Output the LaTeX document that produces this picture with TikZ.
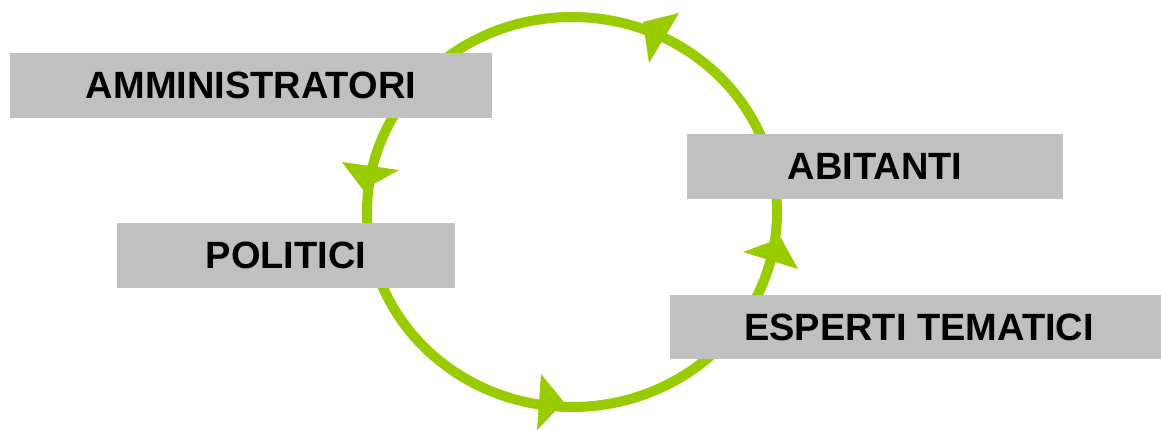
\documentclass[tikz,border=0pt]{standalone}
\usepackage{fontspec}
\setmainfont{Liberation Sans}
\definecolor{ringgreen}{HTML}{99CC00}
\definecolor{boxgray}{HTML}{C0C0C0}
\begin{document}
\begin{tikzpicture}[x=1pt,y=-1pt,
  ring/.style={draw=ringgreen,line width=10pt},
  head/.style={fill=ringgreen},
  lbl/.style={fill=boxgray,inner sep=0pt,font=\fontsize{38}{44}\selectfont\bfseries,text=black}]
\useasboundingbox (0,0) rectangle (1161,430);
% cycle ring
\draw[ring] (572,212) ellipse [x radius=205, y radius=195];
% arrowheads (counterclockwise)
\fill[head] (643,22) -- (679,13) -- (649,63) -- cycle;
\fill[head] (342,162) -- (399,170) -- (363,190) -- cycle;
\fill[head] (541,374) -- (564,402) -- (537,430) -- cycle;
\fill[head] (743,252) -- (781,238) -- (798,269) -- cycle;
% labels
\node[lbl,minimum width=482pt,minimum height=65pt] (amm) at (251,85.5) {AMMINISTRATORI};
\node[lbl,minimum width=338pt,minimum height=65pt] (pol) at (286,255.5) {POLITICI};
\node[lbl,minimum width=376pt,minimum height=65pt] (abi) at (875,166.5) {ABITANTI};
\node[lbl,minimum width=491pt,minimum height=64pt] (esp) at (915.5,327) {\hspace{7pt}ESPERTI TEMATICI};
\end{tikzpicture}
\end{document}
